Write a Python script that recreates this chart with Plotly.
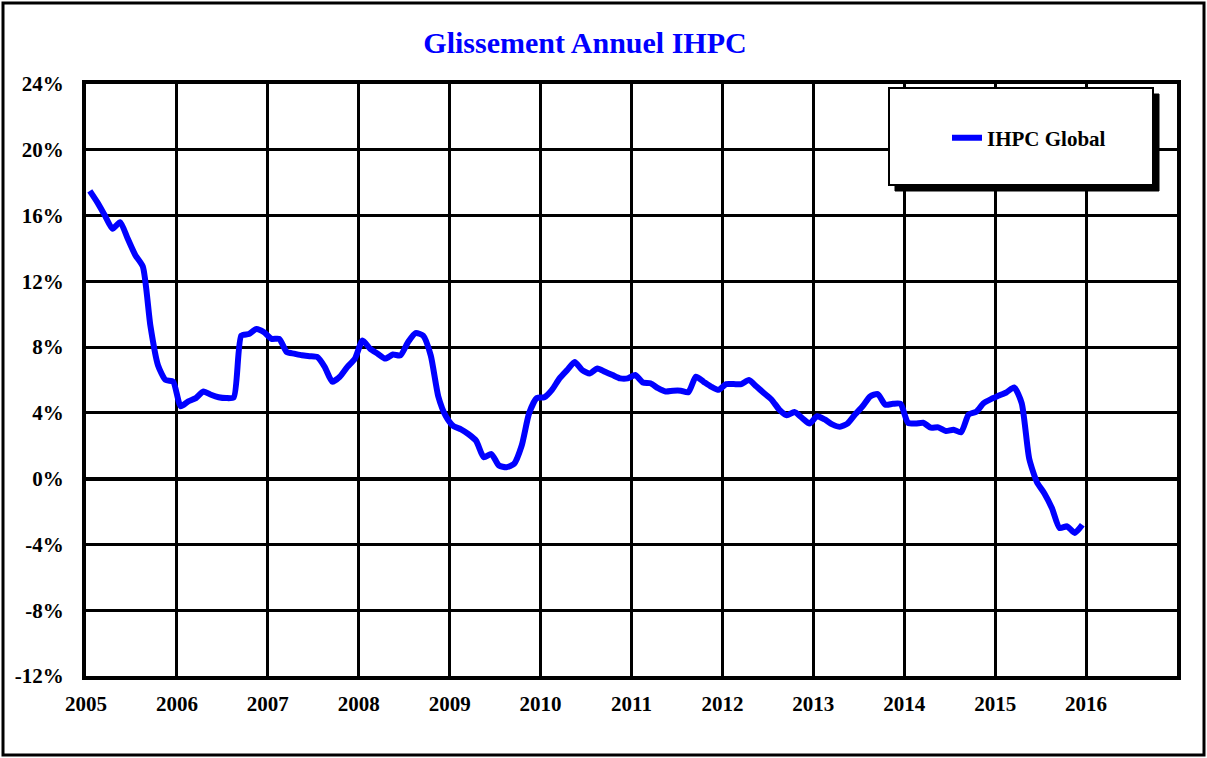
import numpy as np
import plotly.graph_objects as go

# ---- data ----
start_year = 2005
ihpc_global = [
    # 2005
    17.5, 16.8, 16.0, 15.2, 15.6, 14.6, 13.6, 12.9, 9.3, 6.9, 6.0, 5.9,
    # 2006
    4.4, 4.7, 4.9, 5.3, 5.1, 4.95, 4.9, 4.95, 8.7, 8.8, 9.1, 8.9,
    # 2007
    8.5, 8.5, 7.7, 7.6, 7.5, 7.45, 7.4, 6.8, 5.9, 6.2, 6.8, 7.3,
    # 2008
    8.4, 7.9, 7.6, 7.3, 7.55, 7.5, 8.3, 8.85, 8.7, 7.5, 5.0, 3.8,
    # 2009
    3.2, 3.0, 2.7, 2.3, 1.3, 1.5, 0.8, 0.7, 0.9, 2.0, 4.0, 4.9,
    # 2010
    4.95, 5.4, 6.1, 6.6, 7.1, 6.6, 6.4, 6.7, 6.5, 6.3, 6.1, 6.1,
    # 2011
    6.3, 5.85, 5.8, 5.5, 5.3, 5.35, 5.35, 5.25, 6.2, 5.9, 5.6, 5.4,
    # 2012
    5.75, 5.75, 5.75, 6.0, 5.6, 5.2, 4.8, 4.2, 3.85, 4.05, 3.7, 3.35,
    # 2013
    3.8, 3.6, 3.3, 3.15, 3.35, 3.9, 4.4, 5.0, 5.15, 4.5, 4.55, 4.55,
    # 2014
    3.4, 3.35, 3.4, 3.1, 3.12, 2.9, 2.98, 2.82, 3.9, 4.07, 4.6, 4.85,
    # 2015
    5.05, 5.25, 5.55, 4.6, 1.2, -0.2, -0.9, -1.8, -3.0, -2.9, -3.3, -2.8,
]
x_tick_years = list(range(2005, 2017))
x_tick_labels = [str(y) for y in x_tick_years]
y_tick_vals = [-12, -8, -4, 0, 4, 8, 12, 16, 20, 24]
y_tick_labels = ["-12%", "-8%", "-4%", "0%", "4%", "8%", "12%", "16%", "20%", "24%"]

# monthly observations, placed at mid-month
x_vals = start_year + (np.arange(len(ihpc_global)) + 0.5) / 12.0

FONT = "Liberation Serif, Times New Roman, serif"

fig = go.Figure()
fig.add_trace(go.Scatter(
    x=x_vals, y=ihpc_global, mode="lines", name="<b>IHPC Global</b>",
    line=dict(color="#0000FF", width=6, shape="spline", smoothing=0.6),
))

W, H = 1207, 758
L, R, T, B = 86, 1177, 84, 676


def px(xp):
    return (xp - L) / (R - L)


def py(yp):
    return (B - yp) / (B - T)


shapes = [
    # outer frame
    dict(type="rect", xref="paper", yref="paper",
         x0=px(3), x1=px(1204), y0=py(755), y1=py(3),
         line=dict(color="black", width=3), layer="below"),
    # legend shadow
    dict(type="rect", xref="paper", yref="paper",
         x0=px(895), x1=px(1159), y0=py(191), y1=py(94),
         fillcolor="black", line=dict(color="black", width=1), layer="above"),
    # legend box
    dict(type="rect", xref="paper", yref="paper",
         x0=px(889), x1=px(1153), y0=py(185), y1=py(88),
         fillcolor="white", line=dict(color="black", width=2), layer="above"),
]

fig.update_layout(
    width=W, height=H,
    margin=dict(l=L, r=W - R, t=T, b=H - B),
    paper_bgcolor="white", plot_bgcolor="white",
    title=dict(text="<b>Glissement Annuel IHPC</b>", x=585 / W, xanchor="center",
               y=1 - 42 / H, yanchor="middle",
               font=dict(family=FONT, size=30, color="#0000FF")),
    font=dict(family=FONT, size=21, color="black"),
    showlegend=True,
    legend=dict(x=px(947), xanchor="left", y=py(138), yanchor="middle",
                bgcolor="rgba(0,0,0,0)", borderwidth=0,
                font=dict(family=FONT, size=21, color="black")),
    shapes=shapes,
    xaxis=dict(range=[2005, 2017], tickvals=x_tick_years,
               ticktext=["<b>%s</b>" % t for t in x_tick_labels],
               showgrid=True, gridcolor="black", gridwidth=3,
               showline=True, linecolor="black", linewidth=4, mirror=True,
               ticks="", zeroline=False, ticklabelstandoff=6,
               tickfont=dict(family=FONT, size=21, color="black")),
    yaxis=dict(range=[-12, 24], tickvals=y_tick_vals,
               ticktext=["<b>%s</b>" % t for t in y_tick_labels],
               showgrid=True, gridcolor="black", gridwidth=3,
               showline=True, linecolor="black", linewidth=4, mirror=True,
               ticks="", zeroline=True, zerolinecolor="black", zerolinewidth=4,
               ticklabelstandoff=14,
               tickfont=dict(family=FONT, size=21, color="black")),
)

fig.write_html("out.html", config={"displayModeBar": False},
               post_script="document.body.style.margin='0px';")
